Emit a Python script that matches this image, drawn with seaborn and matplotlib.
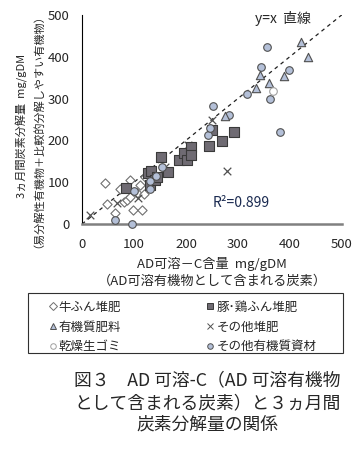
import numpy as np
import pandas as pd
from matplotlib import pyplot as plt
from matplotlib.lines import Line2D
from matplotlib.patches import Rectangle
import seaborn as sns

sns.set_style('white')
plt.rcParams['font.family'] = ['Noto Sans CJK JP', 'DejaVu Sans']

# 牛ふん堆肥
cow_x = [45, 48, 64, 74, 80, 87, 93, 93, 99, 106, 112, 115, 119, 122]
cow_y = [97, 48, 27, 85, 53, 57, 105, 65, 33, 75, 93, 33, 73, 113]
# 豚・鶏ふん堆肥
pig_x = [85, 127, 131, 133, 140, 145, 152, 165, 186, 197, 202, 210, 210, 245, 250, 269, 292]
pig_y = [87, 121, 93, 128, 105, 113, 161, 125, 153, 169, 152, 185, 165, 187, 225, 199, 221]
# 有機質肥料
fert_x = [276, 335, 343, 359, 389, 422, 434]
fert_y = [258, 326, 356, 337, 354, 436, 400]
# その他堆肥
comp_x = [16, 67, 108, 160, 203, 250, 279]
comp_y = [22, 50, 62, 137, 188, 248, 128]
# 乾燥生ゴミ
garb_x = [367]
garb_y = [319]
# その他有機質資材
oth_x = [64, 97, 101, 131, 131, 143, 153, 243, 247, 252, 283, 317, 344, 356, 361, 381, 399]
oth_y = [10, 0, 79, 103, 85, 116, 137, 213, 229, 281, 261, 311, 375, 423, 299, 221, 367]

blue = '#b4c0d8'
# name: (x, y, marker, face, edge, size)
groups = {
    '牛ふん堆肥': (cow_x, cow_y, 'D', 'white', '#707070', 22),
    'その他堆肥': (comp_x, comp_y, 'x', '#505050', '#505050', 30),
    '豚･鶏ふん堆肥': (pig_x, pig_y, 's', '#6f6b73', '#3a3a3a', 48),
    'その他有機質資材': (oth_x, oth_y, 'o', blue, '#505050', 30),
    '有機質肥料': (fert_x, fert_y, '^', blue, '#505050', 36),
    '乾燥生ゴミ': (garb_x, garb_y, 'o', 'white', '#a0a0a0', 30),
}

fig = plt.figure(figsize=(3.55, 4.63), dpi=100)
ax = fig.add_axes([0.231, 0.516, 0.732, 0.452])

ax.plot([0, 500], [0, 500], color='#202020', ls=(0, (3, 3)), lw=0.9, zorder=1)

for name, (gx, gy, mk, fc, ec, s) in groups.items():
    df = pd.DataFrame({'x': gx, 'y': gy})
    if mk == 'x':
        sns.scatterplot(data=df, x='x', y='y', marker='x', color=fc, s=s,
                        linewidth=0.9, ax=ax, zorder=3, clip_on=False)
    else:
        sns.scatterplot(data=df, x='x', y='y', marker=mk, color=fc, edgecolor=ec,
                        s=s, linewidth=0.8, ax=ax, zorder=3, clip_on=False)

ax.set_xlim(0, 500)
ax.set_ylim(0, 500)
ax.set_xticks(range(0, 501, 100))
ax.set_yticks(range(0, 501, 100))
ax.tick_params(direction='in', length=3, color='#707070', labelsize=9.5)
ax.tick_params(axis='y', pad=9)
ax.tick_params(axis='x', pad=10)
for s in ['top', 'right']:
    ax.spines[s].set_visible(False)
ax.spines['left'].set_color('black')
ax.spines['left'].set_linewidth(0.8)
ax.spines['bottom'].set_color('#808080')
ax.spines['bottom'].set_linewidth(1.8)

ax.set_xlabel('AD可溶－C含量  mg/gDM\n（AD可溶有機物として含まれる炭素）',
              fontsize=9.5, linespacing=1.45, labelpad=4)
ax.set_ylabel('3ヵ月間炭素分解量  mg/gDM\n（易分解性有機物＋比較的分解しやすい有機物）',
              fontsize=8.0, linespacing=0.95)
ax.yaxis.set_label_coords(-0.17, 0.47)

ax.text(333, 492, 'y=x  直線', fontsize=10, va='center')
ax.text(252, 50, 'R²=0.899', fontsize=10, va='center', color='#1a2a50')

legend_order = ['牛ふん堆肥', '有機質肥料', '乾燥生ゴミ', '豚･鶏ふん堆肥', 'その他堆肥', 'その他有機質資材']
handles = []
for name in legend_order:
    gx, gy, mk, fc, ec, s = groups[name]
    if mk == 'x':
        h = Line2D([], [], ls='none', marker='x', color=fc, markersize=4.5, markeredgewidth=0.7)
    else:
        h = Line2D([], [], ls='none', marker=mk, markerfacecolor=fc, markeredgecolor=ec,
                   markersize=4, markeredgewidth=0.7)
    handles.append(h)
leg = fig.legend(handles, legend_order, loc='upper left',
                 bbox_to_anchor=(30 / 355, 1 - 298 / 463),
                 ncol=2, fontsize=9, frameon=False,
                 handletextpad=-1.1, handlelength=3.2,
                 labelspacing=0.55, borderaxespad=0, borderpad=0.2,
                 columnspacing=5.5)
fig.patches.append(Rectangle((28 / 355, 1 - 353 / 463), 315 / 355, 60 / 463,
                             transform=fig.transFigure, fill=False,
                             edgecolor='#303030', linewidth=0.8))

fig.text(0.585, 0.130, '図３　AD 可溶-C（AD 可溶有機物\nとして含まれる炭素）と３ヵ月間\n炭素分解量の関係',
         ha='center', va='center', fontsize=12.8, linespacing=1.3)

plt.savefig('out.png', dpi=100)
plt.close()
